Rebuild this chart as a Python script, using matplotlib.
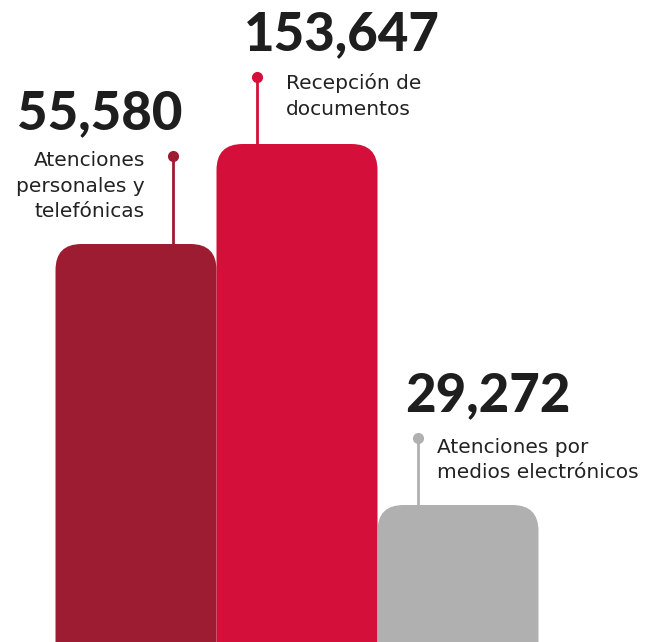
import matplotlib
matplotlib.use('Agg')
import matplotlib.pyplot as plt
from matplotlib.patches import FancyBboxPatch

# ------------------------------------------------------------------------------
# Data
# ------------------------------------------------------------------------------
values = ['55,580', '153,647', '29,272']
labels = ['Atenciones\npersonales y\ntelefónicas',
          'Recepción de\ndocumentos',
          'Atenciones por\nmedios electrónicos']
# bar heights as drawn (not to scale with the values)
heights = [398, 498, 137]
colors = ['#9E1C32', '#D4103A', '#B0B0B0']

# ------------------------------------------------------------------------------
# Figure
# ------------------------------------------------------------------------------
W, H = 658, 642
fig = plt.figure(figsize=(W / 100, H / 100), dpi=100)
ax = fig.add_axes([0, 0, 1, 1])
px = 161.0  # pixels per bar unit
ax.set_xlim(-136 / px, (W - 136) / px)
ax.set_ylim(0, H)
ax.axis('off')

r_px = 26
for i, (h, c) in enumerate(zip(heights, colors)):
    box = FancyBboxPatch((i - 0.5, -40), 1.0, h + 40,
                         boxstyle='round,pad=0,rounding_size=%f' % (r_px / px),
                         mutation_aspect=px, fc=c, ec='none', lw=0)
    ax.add_patch(box)

num_font = dict(family='Lato', fontweight='black', fontsize=38, color='#1E1E1E')
lab_font = dict(family='DejaVu Sans', fontsize=14.5, color='#222222',
                linespacing=1.42)

# label 1: text on the left, right aligned
i = 0
dx, dy = 37 / px, 88
ax.plot([i + dx, i + dx], [heights[i], heights[i] + dy], color=colors[i], lw=2)
ax.plot(i + dx, heights[i] + dy, 'o', color=colors[i], ms=7)
ax.text(i + 46 / px, heights[i] + 130, values[i], ha='right', va='center',
        **num_font)
ax.text(i + 9 / px, heights[i] + 58, labels[i], ha='right', va='center',
        **lab_font)

# labels 2 and 3: text on the right, left aligned
for i, dy, tx, ty in [(1, 67, -11, -19), (2, 67, -21, -22)]:
    dx = -40 / px
    ax.plot([i + dx, i + dx], [heights[i], heights[i] + dy], color=colors[i],
            lw=2)
    ax.plot(i + dx, heights[i] + dy, 'o', color=colors[i], ms=7)
    ax.text(i - 53 / px, heights[i] + dy + 42, values[i], ha='left',
            va='center', **num_font)
    ax.text(i + tx / px, heights[i] + dy + ty, labels[i], ha='left',
            va='center', **lab_font)

fig.savefig('out.png', dpi=100)
